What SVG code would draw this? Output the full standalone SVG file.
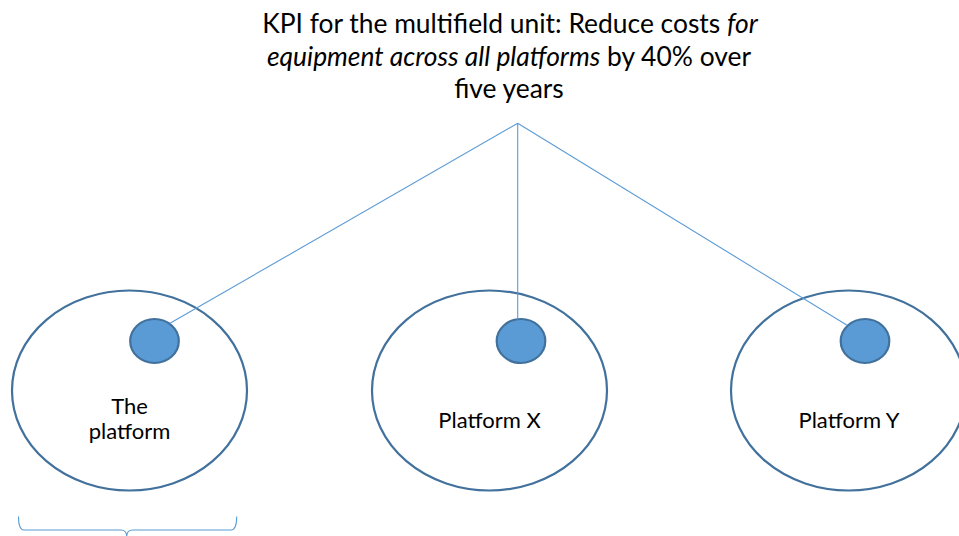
<svg xmlns="http://www.w3.org/2000/svg" width="959" height="536" viewBox="0 0 959 536">
<style>
.title{font-family:Lato,"Open Sans","Liberation Sans",sans-serif;font-size:26.4px;fill:#000;text-anchor:middle}
.lbl{font-family:Lato,"Open Sans","Liberation Sans",sans-serif;font-size:22px;fill:#000;text-anchor:middle}
.it{font-style:italic}
.big{fill:#fff;stroke:#41719C;stroke-width:2.2}
.dot{fill:#5B9BD5;stroke:#41719C;stroke-width:2.2}
.conn{fill:none;stroke:#5B9BD5;stroke-width:1.1}
</style>
<rect width="959" height="536" fill="#fff"/>
<g id="kpi">
<text class="title" x="510" y="32.5">KPI for the multifield unit: Reduce costs <tspan class="it">for</tspan></text>
<text class="title" x="509" y="65.5"><tspan class="it">equipment across all platforms</tspan> by 40% over</text>
<text class="title" x="509" y="98">five years</text>
</g>
<g id="the-platform">
<ellipse class="big" cx="129.5" cy="390.5" rx="117.5" ry="100"/>
<ellipse class="dot" cx="154.5" cy="341" rx="24.3" ry="22"/>
<text class="lbl" x="129.5" y="413.7">The</text>
<text class="lbl" x="129.5" y="438.7">platform</text>
</g>
<g id="platform-x">
<ellipse class="big" cx="489.5" cy="390.5" rx="117.5" ry="100"/>
<ellipse class="dot" cx="521" cy="341" rx="24.3" ry="22"/>
<text class="lbl" x="489.5" y="428.3">Platform X</text>
</g>
<g id="platform-y">
<ellipse class="big" cx="848.5" cy="390.5" rx="117.5" ry="100"/>
<ellipse class="dot" cx="865" cy="341" rx="24.3" ry="22"/>
<text class="lbl" x="849" y="428.3">Platform Y</text>
</g>
<g id="connectors">
<line class="conn" x1="517.7" y1="123.3" x2="170" y2="323.3"/>
<line class="conn" x1="517.7" y1="123.3" x2="517.7" y2="319.3"/>
<line class="conn" x1="517.7" y1="123.3" x2="846.7" y2="325"/>
</g>
<g id="bracket">
<path class="conn" stroke-width="1.3" d="M18.5,516.5 Q18.5,530 24,530 H121 Q126.7,530 126.7,537 M126.7,537 Q126.7,530 132.5,530 H231 Q236.7,530 236.7,516.5"/>
</g>
</svg>
